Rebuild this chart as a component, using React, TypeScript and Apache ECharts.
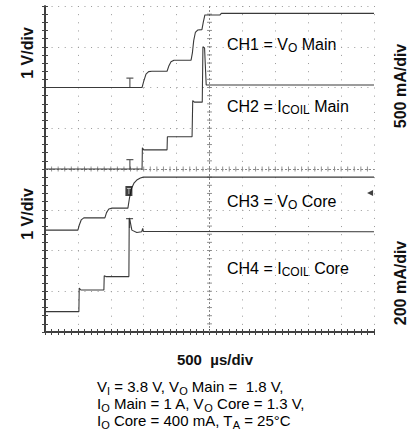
import React, { useEffect, useRef } from 'react';
import * as echarts from 'echarts';

// Oscilloscope screen: 10 horizontal divisions, 8 vertical divisions
const xRange = [0, 10];
const yRange = [0, 8];
const minorPerDiv = 5;

// Traces, in divisions
const ch1VoMain: [number, number][] = [
  [0, 6.0], [2.95, 6.0], [3.0, 6.15], [3.07, 6.33], [3.15, 6.39], [3.25, 6.4], [3.71, 6.4],
  [3.76, 6.52], [3.83, 6.63], [3.92, 6.67], [4.44, 6.67], [4.48, 6.85], [4.52, 7.15],
  [4.57, 7.35], [4.64, 7.41], [4.77, 7.42], [4.81, 7.6], [4.86, 7.78], [5.32, 7.78],
  [5.36, 7.82], [10, 7.82],
];
const ch2IcoilMain: [number, number][] = [
  [0, 4.0], [2.95, 4.0], [2.96, 4.52], [3.0, 4.47], [3.71, 4.47], [3.72, 4.79], [4.47, 4.79],
  [4.49, 5.68], [4.54, 5.64], [4.78, 5.64], [4.8, 7.0], [4.85, 6.97], [4.9, 6.06], [10, 6.06],
];
const ch3VoCore: [number, number][] = [
  [0, 2.5], [1.0, 2.5], [1.04, 2.62], [1.1, 2.75], [1.18, 2.8], [1.82, 2.8], [1.87, 2.93],
  [1.94, 3.02], [2.04, 3.04], [2.52, 3.04], [2.57, 3.3], [2.63, 3.52], [2.71, 3.66],
  [2.79, 3.73], [2.9, 3.78], [2.99, 3.8], [10, 3.8],
];
const ch4IcoilCore: [number, number][] = [
  [0, 0.5], [1.03, 0.5], [1.04, 1.08], [1.09, 1.03], [1.79, 1.03], [1.8, 1.38], [1.85, 1.36],
  [2.55, 1.36], [2.56, 2.8], [2.58, 2.75], [2.64, 2.5], [2.79, 2.44], [2.94, 2.46],
  [2.97, 2.54], [2.99, 2.47], [10, 2.46],
];

// Scope markers
const triggerMarksAbove: [number, number][] = [[2.58, 6.0], [2.58, 4.0]];
const triggerMarksBelow: [number, number][] = [[2.57, 2.8]];
const ch3BoxMark: [number, number][] = [[2.55, 3.46]];
const rightArrowMark: [number, number][] = [[9.88, 3.41]];

// Texts
const leftLabels = ['1 V/div', '1 V/div'];
const rightLabels = ['500 mA/div', '200 mA/div'];
const timeLabel = '500  µs/div';

const FONT = 'Liberation Sans, Arial, Helvetica, sans-serif';
const TRACE = '#3a3a3a';

const T_PATH = 'path://M0,0H7V1.3H4.1V10H2.9V1.3H0Z';

export default function App() {
  const ref = useRef<HTMLDivElement>(null);

  useEffect(() => {
    if (!ref.current) return;
    const chart = echarts.init(ref.current, undefined, { renderer: 'svg' });

    const hTicks: [number, number][] = [];
    for (let k = 1; k < (xRange[1] - xRange[0]) * minorPerDiv; k++) hTicks.push([k / minorPerDiv, 4]);
    const vTicks: [number, number][] = [];
    for (let k = 1; k < (yRange[1] - yRange[0]) * minorPerDiv; k++) vTicks.push([5, k / minorPerDiv]);

    const axisCommon = {
      type: 'value' as const,
      interval: 1,
      axisLine: { show: true, lineStyle: { color: '#333', width: 1.5 } },
      axisTick: { show: true, inside: true, length: 3, lineStyle: { color: '#444', width: 1 } },
      minorTick: { show: true, splitNumber: minorPerDiv, length: 3, lineStyle: { color: '#444', width: 1 } },
      axisLabel: { show: false },
    };

    const traceSeries = (data: [number, number][]) => ({
      type: 'line',
      data,
      showSymbol: false,
      symbol: 'none',
      silent: true,
      lineStyle: { color: TRACE, width: 1.1 },
      z: 5,
    });

    const main = { fontSize: 16, fontFamily: FONT, color: '#111', lineHeight: 20 };
    const sub = { fontSize: 12, fontFamily: FONT, color: '#111', lineHeight: 12, padding: [8, 0, 0, 0] };
    const mainB = { fontSize: 15, fontFamily: FONT, color: '#111', lineHeight: 17 };
    const subB = { fontSize: 11, fontFamily: FONT, color: '#111', lineHeight: 12, padding: [8, 0, 0, 0] };

    const chLabel = (y: number, text: string) => ({
      type: 'text',
      left: 227,
      top: y - 10,
      silent: true,
      style: { text, rich: { a: main, s: sub }, fontSize: 16, fontFamily: FONT },
    });

    const rotLabel = (x: number, y: number, text: string) => ({
      type: 'text',
      x,
      y,
      rotation: Math.PI / 2,
      silent: true,
      style: {
        text,
        fontSize: 16,
        fontWeight: 'bold',
        fontFamily: FONT,
        fill: '#111',
        align: 'center',
        verticalAlign: 'middle',
      },
    });

    chart.setOption({
      animation: false,
      grid: { left: 45, top: 6, width: 329, height: 326, containLabel: false },
      xAxis: [
        {
          ...axisCommon,
          position: 'bottom',
          min: xRange[0],
          max: xRange[1],
          splitLine: { show: true, lineStyle: { color: '#9a9a9a', width: 1, type: [1, 7.15] } },
        },
        {
          ...axisCommon,
          position: 'top',
          min: xRange[0],
          max: xRange[1],
          splitLine: { show: false },
        },
      ],
      yAxis: [
        {
          ...axisCommon,
          position: 'left',
          min: yRange[0],
          max: yRange[1],
          splitLine: { show: true, lineStyle: { color: '#9a9a9a', width: 1, type: [1, 5.58] } },
        },
        {
          ...axisCommon,
          position: 'right',
          min: yRange[0],
          max: yRange[1],
          splitLine: { show: false },
        },
      ],
      series: [
        {
          type: 'scatter',
          data: hTicks,
          symbol: 'rect',
          symbolSize: [1, 5],
          silent: true,
          itemStyle: { color: '#777' },
          markLine: {
            silent: true,
            symbol: 'none',
            label: { show: false },
            lineStyle: { color: '#888', width: 1, type: [2, 2] },
            data: [{ yAxis: 4 }, { xAxis: 5 }],
          },
          z: 2,
        },
        {
          type: 'scatter',
          data: vTicks,
          symbol: 'rect',
          symbolSize: [5, 1],
          silent: true,
          itemStyle: { color: '#777' },
          z: 2,
        },
        traceSeries(ch1VoMain),
        traceSeries(ch2IcoilMain),
        traceSeries(ch3VoCore),
        traceSeries(ch4IcoilCore),
        {
          type: 'scatter',
          data: triggerMarksAbove,
          symbol: T_PATH,
          symbolSize: [7, 10],
          symbolOffset: [0, '-50%'],
          silent: true,
          itemStyle: { color: '#333' },
          z: 6,
        },
        {
          type: 'scatter',
          data: triggerMarksBelow,
          symbol: T_PATH,
          symbolSize: [7, 10],
          symbolOffset: [0, '50%'],
          silent: true,
          itemStyle: { color: '#333' },
          z: 6,
        },
        {
          type: 'scatter',
          data: ch3BoxMark,
          symbol: 'rect',
          symbolSize: [7, 10],
          silent: true,
          itemStyle: { color: '#111' },
          z: 6,
        },
        {
          type: 'scatter',
          data: ch3BoxMark,
          symbol: T_PATH,
          symbolSize: [4, 6],
          silent: true,
          itemStyle: { color: '#fff' },
          z: 7,
        },
        {
          type: 'scatter',
          data: rightArrowMark,
          symbol: 'triangle',
          symbolRotate: 90,
          symbolSize: [6, 6],
          silent: true,
          itemStyle: { color: '#111' },
          z: 6,
        },
      ],
      graphic: [
        rotLabel(27, 53, leftLabels[0]),
        rotLabel(27, 214, leftLabels[1]),
        rotLabel(400, 86, rightLabels[0]),
        rotLabel(400, 283, rightLabels[1]),
        {
          type: 'text',
          x: 215,
          y: 359,
          silent: true,
          style: {
            text: timeLabel,
            fontSize: 15,
            fontWeight: 'bold',
            fontFamily: FONT,
            fill: '#111',
            align: 'center',
            verticalAlign: 'middle',
          },
        },
        chLabel(44, '{a|CH1 = V}{s|O}{a| Main}'),
        chLabel(106, '{a|CH2 = I}{s|COIL}{a| Main}'),
        chLabel(201, '{a|CH3 = V}{s|O}{a| Core}'),
        chLabel(268, '{a|CH4 = I}{s|COIL}{a| Core}'),
        {
          type: 'text',
          left: 97,
          top: 377,
          silent: true,
          style: {
            text:
              '{a|V}{s|I}{a| = 3.8 V, V}{s|O}{a| Main =  1.8 V,}\n' +
              '{a|I}{s|O}{a| Main = 1 A, V}{s|O}{a| Core = 1.3 V,}\n' +
              '{a|I}{s|O}{a| Core = 400 mA, T}{s|A}{a| = 25°C}',
            rich: { a: mainB, s: subB },
            fontSize: 15,
            fontFamily: FONT,
          },
        },
      ],
    });

    return () => chart.dispose();
  }, []);

  return (
    <div
      ref={ref}
      style={{ position: 'fixed', left: 0, top: 0, width: 411, height: 438, background: '#fff' }}
    />
  );
}
